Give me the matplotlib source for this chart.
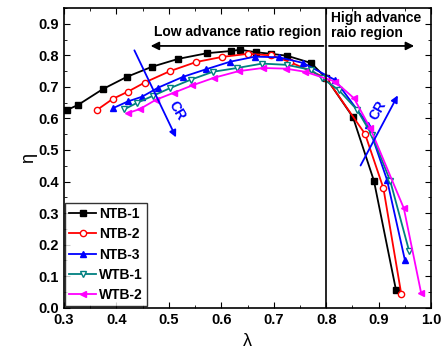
import matplotlib
matplotlib.use('Agg')
import matplotlib.pyplot as plt
from matplotlib.ticker import MultipleLocator

plt.rcParams['font.family'] = ['Liberation Sans', 'DejaVu Sans']
plt.rcParams['font.weight'] = 'bold'

# advance ratio / efficiency
ntb1_x = [0.306, 0.327, 0.374, 0.420, 0.468, 0.518, 0.573, 0.619, 0.636, 0.666, 0.695, 0.725, 0.771, 0.800, 0.851, 0.891, 0.933]
ntb1_y = [0.627, 0.643, 0.693, 0.732, 0.764, 0.789, 0.807, 0.814, 0.818, 0.810, 0.805, 0.799, 0.776, 0.728, 0.604, 0.402, 0.056]

ntb2_x = [0.363, 0.393, 0.422, 0.454, 0.502, 0.552, 0.601, 0.651, 0.695, 0.731, 0.800, 0.874, 0.909, 0.943]
ntb2_y = [0.627, 0.662, 0.685, 0.714, 0.750, 0.779, 0.795, 0.805, 0.800, 0.779, 0.728, 0.551, 0.379, 0.044]

ntb3_x = [0.394, 0.422, 0.449, 0.480, 0.527, 0.571, 0.617, 0.664, 0.710, 0.756, 0.817, 0.880, 0.916, 0.950]
ntb3_y = [0.633, 0.654, 0.669, 0.698, 0.732, 0.756, 0.780, 0.796, 0.794, 0.776, 0.722, 0.580, 0.405, 0.151]

wtb1_x = [0.415, 0.440, 0.470, 0.502, 0.542, 0.584, 0.630, 0.678, 0.725, 0.771, 0.792, 0.824, 0.859, 0.887, 0.922, 0.958]
wtb1_y = [0.629, 0.650, 0.672, 0.696, 0.723, 0.748, 0.760, 0.774, 0.770, 0.754, 0.728, 0.690, 0.627, 0.548, 0.402, 0.180]

wtb2_x = [0.422, 0.445, 0.475, 0.510, 0.545, 0.586, 0.633, 0.679, 0.723, 0.760, 0.817, 0.853, 0.884, 0.948, 0.981]
wtb2_y = [0.617, 0.630, 0.659, 0.682, 0.705, 0.729, 0.750, 0.760, 0.758, 0.748, 0.717, 0.664, 0.569, 0.315, 0.046]

series = [
    ('NTB-1', ntb1_x, ntb1_y, 'black', 's', 'black'),
    ('NTB-2', ntb2_x, ntb2_y, 'red', 'o', 'white'),
    ('NTB-3', ntb3_x, ntb3_y, 'blue', '^', 'blue'),
    ('WTB-1', wtb1_x, wtb1_y, '#008080', 'v', 'white'),
    ('WTB-2', wtb2_x, wtb2_y, 'magenta', '<', 'magenta'),
]

fig = plt.figure(figsize=(4.44, 3.52), dpi=100)
ax = fig.add_axes([0.144, 0.126, 0.827, 0.851])

for name, xs, ys, c, m, fc in series:
    ax.plot(xs, ys, color=c, marker=m, markerfacecolor=fc, markeredgecolor=c,
            markersize=4.5, linewidth=1.3, label=name)

# region divider and arrows
ax.axvline(0.8, color='black', linewidth=1.2)
ax.annotate('', xy=(0.46, 0.83), xytext=(0.8, 0.83),
            arrowprops=dict(arrowstyle='-|>', color='black', lw=1.3, mutation_scale=12))
ax.annotate('', xy=(0.973, 0.83), xytext=(0.8, 0.83),
            arrowprops=dict(arrowstyle='-|>', color='black', lw=1.3, mutation_scale=12))
ax.text(0.632, 0.873, 'Low advance ratio region', ha='center', va='center', fontsize=10)
ax.text(0.81, 0.895, 'High advance\nraio region', ha='left', va='center', fontsize=10,
        linespacing=1.1)

# CR arrows
ax.annotate('', xy=(0.516, 0.532), xytext=(0.432, 0.824),
            arrowprops=dict(arrowstyle='-|>', color='blue', lw=1.3, mutation_scale=10))
ax.text(0.515, 0.625, 'CR', color='blue', fontsize=10, rotation=-60, ha='center', va='center')
ax.annotate('', xy=(0.939, 0.681), xytext=(0.863, 0.443),
            arrowprops=dict(arrowstyle='-|>', color='blue', lw=1.3, mutation_scale=10))
ax.text(0.899, 0.627, 'CR', color='blue', fontsize=10, rotation=60, ha='center', va='center')

ax.set_xlim(0.3, 1.0)
ax.set_ylim(0.0, 0.95)
ax.xaxis.set_major_locator(MultipleLocator(0.1))
ax.xaxis.set_minor_locator(MultipleLocator(0.05))
ax.yaxis.set_major_locator(MultipleLocator(0.1))
ax.yaxis.set_minor_locator(MultipleLocator(0.05))
ax.tick_params(which='both', direction='in', top=True, right=True, labelsize=10.5)
ax.tick_params(which='major', length=4)
ax.tick_params(which='minor', length=2)
ax.set_xticklabels([f'{v:.1f}' for v in ax.get_xticks()])
ax.set_yticklabels([f'{v:.1f}' for v in ax.get_yticks()])
for s in ax.spines.values():
    s.set_linewidth(1.2)

ax.set_xlabel('λ', fontsize=13, labelpad=5)
ax.set_ylabel('η', fontsize=13, labelpad=1)

leg = ax.legend(loc='lower left', fontsize=10, frameon=True, fancybox=False,
                edgecolor='black', borderaxespad=0.1, handlelength=1.9,
                handletextpad=0.25, labelspacing=0.45, borderpad=0.3)
leg.get_frame().set_linewidth(1.0)

fig.savefig('out.png', dpi=100)
